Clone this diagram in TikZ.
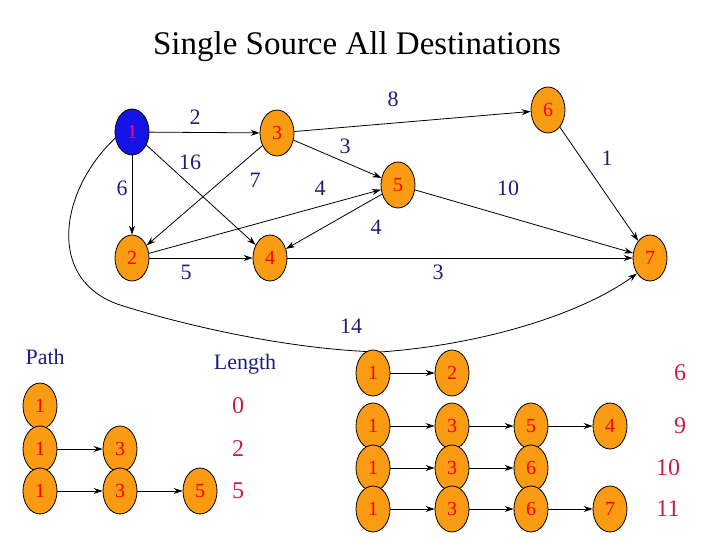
\documentclass[tikz,border=0pt]{standalone}
\usepackage{fontspec}
\setmainfont{Liberation Serif}
\usetikzlibrary{arrows.meta,positioning,shapes.geometric}
\definecolor{vorange}{RGB}{250,155,20}
\definecolor{vblue}{RGB}{20,20,230}
\definecolor{wnavy}{RGB}{30,30,120}
\definecolor{lcrimson}{RGB}{200,30,70}
\begin{document}
\begin{tikzpicture}[x=1pt,y=-1pt]
  \tikzset{vertex/.style = {shape=ellipse,draw,thick,fill=vorange,text=red,minimum width=34pt,minimum height=46pt,inner sep=0pt,font=\fontsize{20}{20}\selectfont}}
  \tikzset{source/.style = {vertex,fill=vblue,text=magenta}}
  \tikzset{edge/.style = {-{Stealth[length=9pt,width=6pt]},thick}}
  \tikzset{weight/.style = {text=wnavy,font=\fontsize{22}{22}\selectfont}}
  \tikzset{dist/.style = {text=lcrimson,font=\fontsize{24}{24}\selectfont}}
  \useasboundingbox (0,0) rectangle (720,540);

  \node[font=\fontsize{33}{33}\selectfont] (title) at (357,47) {Single Source All Destinations};

  \node[source] (v1) at (132,132) {1};
  \node[vertex] (v3) at (277,133) {3};
  \node[vertex] (v6) at (548,110) {6};
  \node[vertex] (v5) at (398,185) {5};
  \node[vertex] (v2) at (132,258) {2};
  \node[vertex] (v4) at (270,258) {4};
  \node[vertex] (v7) at (650,258) {7};

  \foreach \from/\to in {v1/v3, v1/v2, v1/v4, v3/v6, v3/v5, v3/v2, v2/v5, v5/v4, v2/v4, v6/v7, v5/v7, v4/v7}
    \draw[edge] (\from) -- (\to);
  \draw[edge] (v1.200) .. controls (60,190) and (45,280) .. (120,305)
    .. controls (200,330) and (300,350) .. (380,352)
    .. controls (480,345) and (580,315) .. (v7.230);

  \node[weight] at (195,117) {2};
  \node[weight] at (190,162) {16};
  \node[weight] at (122,188) {6};
  \node[weight] at (255,180) {7};
  \node[weight] at (345,146) {3};
  \node[weight] at (320,188) {4};
  \node[weight] at (393,99) {8};
  \node[weight] at (607,158) {1};
  \node[weight] at (508,188) {10};
  \node[weight] at (376,227) {4};
  \node[weight] at (186,272) {5};
  \node[weight] at (438,272) {3};
  \node[weight] at (351,326) {14};

  % shortest paths
  \node[weight,anchor=west] (path) at (22,357) {Path};
  \node[weight] (length) at (245,364) {Length};
  \foreach \row/\y/\seq/\d in {a/406/{1}/0, b/449/{1,3}/2, c/491/{1,3,5}/5}{
    \foreach \v [count=\i] in \seq
      \node[vertex] (p\row\i) at (40+80*\i-80,\y) {\v};
    \node[dist] at (238,\y) {\d};
  }
  \draw[edge] (pb1) -- (pb2);
  \draw[edge] (pc1) -- (pc2);
  \draw[edge] (pc2) -- (pc3);
  \foreach \row/\y/\seq/\d/\dx in {d/373/{1,2}/6/680, e/426/{1,3,5,4}/9/680, f/468/{1,3,6}/10/668, g/509/{1,3,6,7}/11/668}{
    \foreach \v [count=\i] in \seq
      \node[vertex] (q\row\i) at (373+79*\i-79,\y) {\v};
    \node[dist] at (\dx,\y) {\d};
  }
  \foreach \from/\to in {qd1/qd2, qe1/qe2, qe2/qe3, qe3/qe4, qf1/qf2, qf2/qf3, qg1/qg2, qg2/qg3, qg3/qg4}
    \draw[edge] (\from) -- (\to);
\end{tikzpicture}
\end{document}
